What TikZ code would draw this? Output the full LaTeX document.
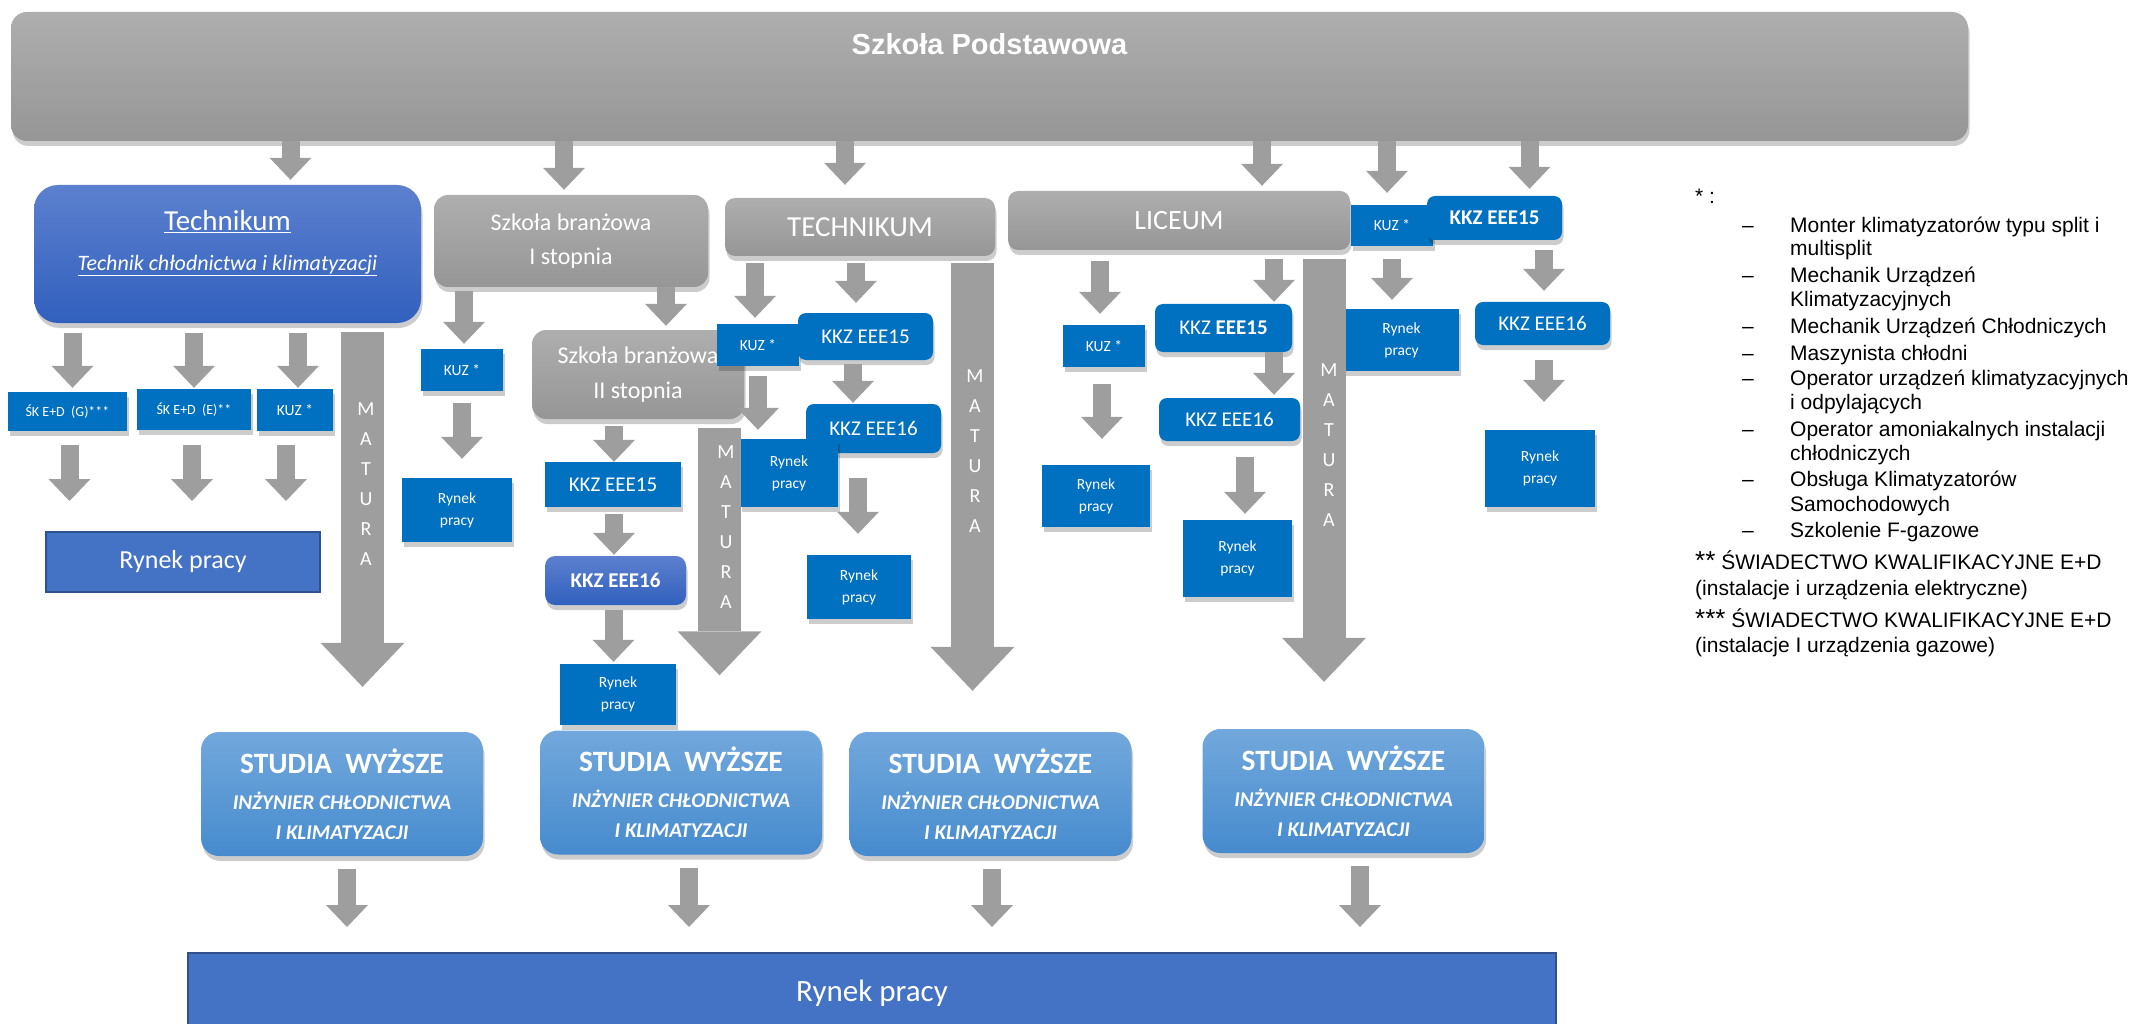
\documentclass[tikz,border=0pt]{standalone}
\usepackage{fontspec}
\setmainfont{Carlito}
\newfontfamily\arialfont{Liberation Sans}
\usepackage{tikz}
\usetikzlibrary{arrows.meta, shadows}

\definecolor{boxblue}{RGB}{0,112,192}
\definecolor{rynblue}{RGB}{68,114,196}
\definecolor{rynedge}{RGB}{47,82,143}
\definecolor{techtop}{RGB}{92,128,206}
\definecolor{techbot}{RGB}{49,96,190}
\definecolor{studtop}{RGB}{114,168,220}
\definecolor{studbot}{RGB}{70,139,206}
\definecolor{graytop}{RGB}{174,174,174}
\definecolor{graybot}{RGB}{150,150,150}
\definecolor{arrgray}{RGB}{158,158,158}
\newcommand{\fsz}[2]{\fontsize{#1}{#2}\selectfont}

\begin{document}
\begin{tikzpicture}[
    x=1pt, y=-1pt,
    txt/.style={text=white, align=center, inner sep=0pt},
    shd/.style={drop shadow={shadow xshift=1.5pt, shadow yshift=-5pt, opacity=.2, fill=black}},
    gbox/.style={txt, shd, rounded corners=14pt, top color=graytop, bottom color=graybot},
    sqbox/.style={txt, shd, fill=boxblue},
    rdbox/.style={sqbox, rounded corners=8pt},
    gradbox/.style={txt, shd, rounded corners=10pt, top color=techtop, bottom color=techbot},
    studbox/.style={txt, shd, rounded corners=18pt, top color=studtop, bottom color=studbot, minimum width=282pt, minimum height=124pt, font=\fsz{21}{30}\bfseries\itshape},
    rynek/.style={txt, fill=rynblue, draw=rynedge, line width=2pt},
    kuz/.style={sqbox, font=\fsz{15.5}{18}},
    ryn/.style={sqbox, font=\fsz{15.5}{22}},
    kkz/.style={font=\fsz{21}{24}},
    blk/.style={draw=arrgray, line width=18pt, -{Triangle[width=42pt, length=22pt, line width=0pt]}},
    mat/.style={draw=arrgray, line width=43pt, -{Triangle[width=84pt, length=44pt, line width=0pt]}},
    matl/.style={txt, font=\fsz{20}{30}},
    lg/.style={anchor=base west, inner sep=0pt, font=\arialfont\fsz{21}{24}},
  ]
  \useasboundingbox (0,0) rectangle (2136,1024);

  % Szkola Podstawowa
  \node[gbox, rounded corners=16pt, minimum width=1957pt, minimum height=129pt,
    label={[txt, font=\arialfont\bfseries\fsz{29}{34}, yshift=32pt]center:Szkoła Podstawowa}] (sp) at (989.5,76.5) {};

  % second row
  \node[gradbox, rounded corners=24pt, minimum width=387pt, minimum height=138pt,
    label={[txt, font=\fsz{22}{40}, yshift=11pt]center:{\fsz{29}{40}\underline{Technikum}}\\\underline{\textit{Technik chłodnictwa i klimatyzacji}}}] (techl) at (227.5,254) {};
  \node[gbox, minimum width=274pt, minimum height=92pt, font=\fsz{24}{34}] (sb1) at (571,241) {Szkoła branżowa\\I stopnia};
  \node[gbox, rounded corners=10pt, minimum width=270pt, minimum height=58pt, font=\fsz{29}{34}] (techu) at (860,227) {TECHNIKUM};
  \node[gbox, rounded corners=10pt, minimum width=342pt, minimum height=59pt, font=\fsz{28}{34}] (lic) at (1179,220.5) {LICEUM};
  \node[kuz, minimum width=82pt, minimum height=41pt] (kuzr) at (1392,225.5) {KUZ *};
  \node[rdbox, kkz, minimum width=135pt, minimum height=44pt] (kkzr15) at (1494.5,218) {\textbf{KKZ EEE15}};

  % Technikum
  \node[sqbox, font=\fsz{14}{16}, minimum width=119pt, minimum height=39pt] (skg) at (67.5,411.5) {ŚK E+D\ \ (G)***};
  \node[sqbox, font=\fsz{14}{16}, minimum width=114pt, minimum height=41pt] (ske) at (194,409.5) {ŚK E+D\ \ (E)**};
  \node[kuz, minimum width=76pt, minimum height=42pt] (kuzt) at (295,410) {KUZ *};
  \node[rynek, font=\fsz{26}{30}, minimum width=274pt, minimum height=60pt] (ryntech) at (183,562) {Rynek pracy};

  % Szkola branzowa
  \node[kuz, minimum width=82pt, minimum height=42pt] (kuzb) at (462,370) {KUZ *};
  \node[ryn, minimum width=110pt, minimum height=64pt] (rynb1) at (457,510) {Rynek\\pracy};
  \node[gbox, minimum width=212pt, minimum height=89pt, font=\fsz{24}{35}] (sb2) at (638,374.5) {Szkoła branżowa\\II stopnia};
  \node[sqbox, kkz, minimum width=136pt, minimum height=45pt] (kkzb15) at (613,484.5) {KKZ EEE15};
  \node[gradbox, kkz, minimum width=141pt, minimum height=49pt] (kkzb16) at (615.5,580.5) {\textbf{KKZ EEE16}};
  \node[ryn, minimum width=116pt, minimum height=61pt] (rynb2) at (618,694.5) {Rynek\\pracy};

  % TECHNIKUM
  \node[kuz, minimum width=82pt, minimum height=42pt] (kuzu) at (758,345) {KUZ *};
  \node[rdbox, kkz, minimum width=135pt, minimum height=47pt] (kkzu15) at (865.5,336.5) {KKZ EEE15};
  \node[rdbox, kkz, minimum width=135pt, minimum height=49pt] (kkzu16) at (873.5,428.5) {KKZ EEE16};
  \node[ryn, minimum width=98pt, minimum height=68pt] (rynu1) at (789,473) {Rynek\\pracy};
  \node[ryn, minimum width=104pt, minimum height=64pt] (rynu2) at (859,587) {Rynek\\pracy};

  % LICEUM
  \node[kuz, minimum width=82pt, minimum height=42pt] (kuzl) at (1104,346) {KUZ *};
  \node[ryn, minimum width=108pt, minimum height=62pt] (rynl1) at (1096,496) {Rynek\\pracy};
  \node[rdbox, kkz, minimum width=137pt, minimum height=48pt] (kkzl15) at (1223.5,328) {KKZ \textbf{EEE15}};
  \node[rdbox, kkz, minimum width=141pt, minimum height=43pt] (kkzl16) at (1229.5,419.5) {KKZ EEE16};
  \node[ryn, minimum width=109pt, minimum height=77pt] (rynl2) at (1237.5,558.5) {Rynek\\pracy};

  % right side
  \node[ryn, minimum width=115pt, minimum height=62pt] (rynr1) at (1401.5,340) {Rynek\\pracy};
  \node[rdbox, kkz, minimum width=135pt, minimum height=43pt] (kkzr16) at (1542.5,323.5) {KKZ EEE16};
  \node[ryn, minimum width=110pt, minimum height=77pt] (rynr2) at (1540,468.5) {Rynek\\pracy};

  % studia
  \node[studbox] (st1) at (342,794) {{\fsz{29.5}{30}\upshape STUDIA\ \ WYŻSZE}\\[6pt]INŻYNIER CHŁODNICTWA\\I KLIMATYZACJI};
  \node[studbox] (st2) at (681,792.5) {{\fsz{29.5}{30}\upshape STUDIA\ \ WYŻSZE}\\[6pt]INŻYNIER CHŁODNICTWA\\I KLIMATYZACJI};
  \node[studbox] (st3) at (990.5,794) {{\fsz{29.5}{30}\upshape STUDIA\ \ WYŻSZE}\\[6pt]INŻYNIER CHŁODNICTWA\\I KLIMATYZACJI};
  \node[studbox] (st4) at (1343.5,791) {{\fsz{29.5}{30}\upshape STUDIA\ \ WYŻSZE}\\[6pt]INŻYNIER CHŁODNICTWA\\I KLIMATYZACJI};
  \node[rynek, font=\fsz{31}{36}, minimum width=1368pt, minimum height=81pt] (rynall) at (872,993.5) {Rynek pracy};

  % arrows from the top
  \draw[blk, shorten >=5pt] ([xshift=63pt]techl.north |- sp.south) -- ([xshift=63pt]techl.north);
  \draw[blk, shorten >=5pt] ([xshift=-7pt]sb1.north |- sp.south) -- ([xshift=-7pt]sb1.north);
  \draw[blk, shorten >=13pt] ([xshift=-15pt]techu.north |- sp.south) -- ([xshift=-15pt]techu.north);
  \draw[blk, shorten >=5pt] ([xshift=83pt]lic.north |- sp.south) -- ([xshift=83pt]lic.north);
  \draw[blk, shorten >=12pt] ([xshift=-5pt]kuzr.north |- sp.south) -- ([xshift=-5pt]kuzr.north);
  \draw[blk, shorten >=7pt] ([xshift=35pt]kkzr15.north |- sp.south) -- ([xshift=35pt]kkzr15.north);

  % Technikum
  \draw[blk, shorten <=10pt, shorten >=4pt] ([xshift=5pt]skg.north |- techl.south) -- ([xshift=5pt]skg.north);
  \draw[blk, shorten <=10pt, shorten >=1pt] (ske.north |- techl.south) -- (ske.north);
  \draw[blk, shorten <=10pt, shorten >=1pt] ([xshift=3pt]kuzt.north |- techl.south) -- ([xshift=3pt]kuzt.north);
  \draw[blk, shorten <=14pt, shorten >=30pt] ([xshift=2pt]skg.south) -- ([xshift=2pt]skg.south |- ryntech.north);
  \draw[blk, shorten <=15pt, shorten >=30pt] ([xshift=-2pt]ske.south) -- ([xshift=-2pt]ske.south |- ryntech.north);
  \draw[blk, shorten <=14pt, shorten >=30pt] ([xshift=-9pt]kuzt.south) -- ([xshift=-9pt]kuzt.south |- ryntech.north);
  \draw[mat, shorten <=9pt, shorten >=45pt] ([xshift=135pt]techl.south) -- ([xshift=135pt]techl.south |- st1.north);

  % Szkola branzowa
  \draw[blk, shorten <=4pt, shorten >=5pt] ([xshift=2pt]kuzb.north |- sb1.south) -- ([xshift=2pt]kuzb.north);
  \draw[blk, shorten <=12pt, shorten >=19pt] (kuzb.south) -- (kuzb.south |- rynb1.north);
  \draw[blk, shorten >=4pt] ([xshift=28pt]sb2.north |- sb1.south) -- ([xshift=28pt]sb2.north);
  \draw[blk, shorten <=7pt] ([xshift=1pt]kkzb15.north |- sb2.south) -- ([xshift=1pt]kkzb15.north);
  \draw[blk, shorten <=7pt, shorten >=1pt] ([xshift=1pt]kkzb15.south) -- ([xshift=1pt]kkzb15.south |- kkzb16.north);
  \draw[blk, shorten <=5pt, shorten >=2pt] ([xshift=-2pt]kkzb16.south) -- ([xshift=-2pt]kkzb16.south |- rynb2.north);
  \draw[mat, shorten <=9pt, shorten >=55pt] ([xshift=81.5pt]sb2.south) -- ([xshift=81.5pt]sb2.south |- st2.north);

  % TECHNIKUM
  \draw[blk, shorten <=7pt, shorten >=6pt] ([xshift=-3pt]kuzu.north |- techu.south) -- ([xshift=-3pt]kuzu.north);
  \draw[blk, shorten <=10pt, shorten >=9pt] (kuzu.south) -- (kuzu.south |- rynu1.north);
  \draw[blk, shorten <=7pt, shorten >=10pt] ([xshift=-9.5pt]kkzu15.north |- techu.south) -- ([xshift=-9.5pt]kkzu15.north);
  \draw[blk, shorten <=4pt, shorten >=1pt] ([xshift=-20.5pt]kkzu16.north |- kkzu15.south) -- ([xshift=-20.5pt]kkzu16.north);
  \draw[blk, shorten <=25pt, shorten >=21pt] ([xshift=-1pt]rynu2.north |- kkzu16.south) -- ([xshift=-1pt]rynu2.north);
  \draw[mat, shorten <=7pt, shorten >=41pt] ([xshift=112.5pt]techu.south) -- ([xshift=112.5pt]techu.south |- st3.north);

  % LICEUM
  \draw[blk, shorten <=11pt, shorten >=11pt] ([xshift=-4pt]kuzl.north |- lic.south) -- ([xshift=-4pt]kuzl.north);
  \draw[blk, shorten <=17pt, shorten >=26pt] ([xshift=-2pt]kuzl.south) -- ([xshift=-2pt]kuzl.south |- rynl1.north);
  \draw[blk, shorten <=9pt, shorten >=2pt] ([xshift=50.5pt]kkzl15.north |- lic.south) -- ([xshift=50.5pt]kkzl15.north);
  \draw[blk, shorten >=3pt] ([xshift=44.5pt]kkzl16.north |- kkzl15.south) -- ([xshift=44.5pt]kkzl16.north);
  \draw[blk, shorten <=16pt, shorten >=6pt] ([xshift=7.5pt]rynl2.north |- kkzl16.south) -- ([xshift=7.5pt]rynl2.north);
  \draw[mat, shorten <=9pt, shorten >=47pt] ([xshift=145pt]lic.south) -- ([xshift=145pt]lic.south |- st4.north);

  % right side
  \draw[blk, shorten <=13pt, shorten >=9pt] (kuzr.south) -- (kuzr.south |- rynr1.north);
  \draw[blk, shorten <=10pt, shorten >=11pt] ([xshift=1.5pt]kkzr16.north |- kkzr15.south) -- ([xshift=1.5pt]kkzr16.north);
  \draw[blk, shorten <=15pt, shorten >=28pt] ([xshift=1.5pt]kkzr16.south) -- ([xshift=1.5pt]kkzr16.south |- rynr2.north);

  % studia -> rynek
  \draw[blk, shorten <=13pt, shorten >=25pt] ([xshift=5pt]st1.south) -- ([xshift=5pt]st1.south |- rynall.north);
  \draw[blk, shorten <=13pt, shorten >=25pt] ([xshift=8pt]st2.south) -- ([xshift=8pt]st2.south |- rynall.north);
  \draw[blk, shorten <=13pt, shorten >=25pt] ([xshift=1.5pt]st3.south) -- ([xshift=1.5pt]st3.south |- rynall.north);
  \draw[blk, shorten <=13pt, shorten >=25pt] ([xshift=16.5pt]st4.south) -- ([xshift=16.5pt]st4.south |- rynall.north);

  % MATURA
  \node[matl] (mt1) at (366,484) {M\\A\\T\\U\\R\\A};
  \node[matl] (mt2) at (726,527) {M\\A\\T\\U\\R\\A};
  \node[matl] (mt3) at (975,451) {M\\A\\T\\U\\R\\A};
  \node[matl] (mt4) at (1329,445.5) {M\\A\\T\\U\\R\\A};

  % legend
  \node[lg] (lgh) at (1695,204) {* :};
  \node[lg] (lg1) at (1742,233) {\makebox[48pt][l]{–}Monter klimatyzatorów typu split i};
  \node[lg] (lg1b) at (1790,256) {multisplit};
  \node[lg] (lg2) at (1742,283) {\makebox[48pt][l]{–}Mechanik Urządzeń};
  \node[lg] (lg2b) at (1790,307) {Klimatyzacyjnych};
  \node[lg] (lg3) at (1742,333) {\makebox[48pt][l]{–}Mechanik Urządzeń Chłodniczych};
  \node[lg] (lg4) at (1742,360) {\makebox[48pt][l]{–}Maszynista chłodni};
  \node[lg] (lg5) at (1742,385) {\makebox[48pt][l]{–}Operator urządzeń klimatyzacyjnych};
  \node[lg] (lg5b) at (1790,409) {i odpylających};
  \node[lg] (lg6) at (1742,436) {\makebox[48pt][l]{–}Operator amoniakalnych instalacji};
  \node[lg] (lg6b) at (1790,460) {chłodniczych};
  \node[lg] (lg7) at (1742,486) {\makebox[48pt][l]{–}Obsługa Klimatyzatorów};
  \node[lg] (lg7b) at (1790,511) {Samochodowych};
  \node[lg] (lg8) at (1742,537) {\makebox[48pt][l]{–}Szkolenie F-gazowe};
  \node[lg] (lgs2) at (1695,569) {{\fsz{26}{26}**} ŚWIADECTWO KWALIFIKACYJNE E+D};
  \node[lg] (lgs2b) at (1695,595) {(instalacje i urządzenia elektryczne)};
  \node[lg] (lgs3) at (1695,627) {{\fsz{26}{26}***} ŚWIADECTWO KWALIFIKACYJNE E+D};
  \node[lg] (lgs3b) at (1695,652) {(instalacje I urządzenia gazowe)};
\end{tikzpicture}
\end{document}
